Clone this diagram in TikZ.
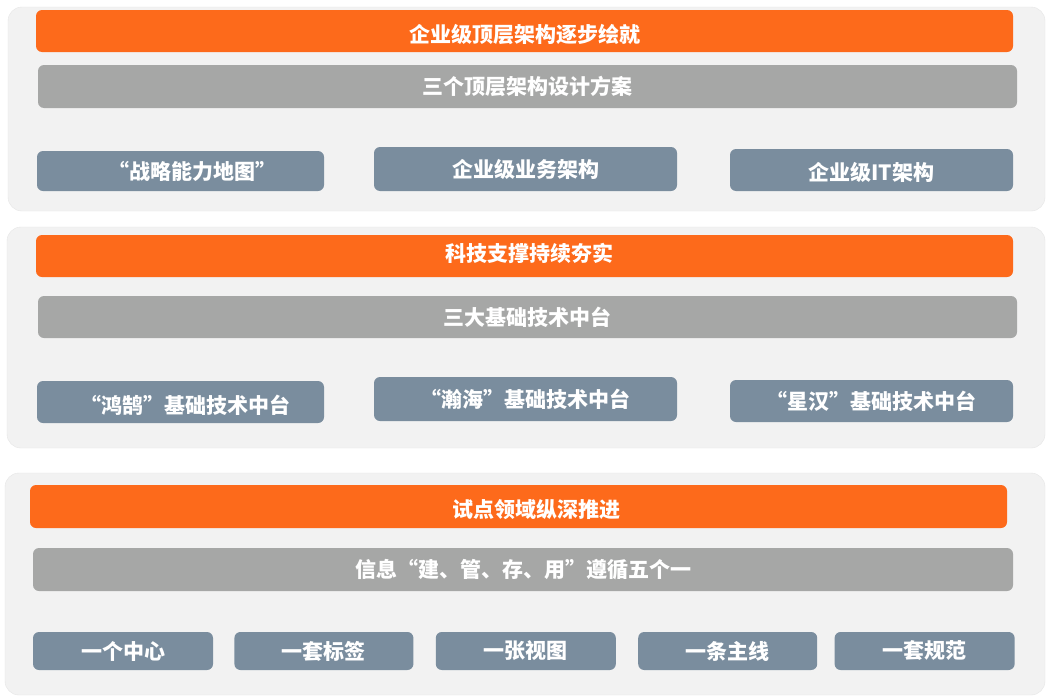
\documentclass[tikz,border=0pt]{standalone}
\usepackage{fontspec}
\setmainfont{Noto Sans CJK SC}
\usetikzlibrary{positioning}
\definecolor{tangerine}{HTML}{FD6A1B}
\definecolor{slab}{HTML}{A6A7A6}
\definecolor{steel}{HTML}{7A8D9E}
\definecolor{tray}{HTML}{F2F2F2}
\definecolor{trayedge}{HTML}{E6E6E6}
% move a label inside its bar without moving the bar
\newcommand\nudge[3]{\hspace*{#1}\raisebox{#2}{\smash{#3}}\vphantom{#3}}

\begin{document}
\begin{tikzpicture}[x=1pt,y=-1pt,
  panel/.style={draw=trayedge,fill=tray,rounded corners=14pt,inner sep=0pt},
  bar/.style={rounded corners=6pt,inner sep=0pt,text=white,
              font=\bfseries\fontsize{21}{24}\selectfont},
  head/.style={bar,fill=tangerine,minimum width=977pt,minimum height=42pt},
  sub/.style={bar,fill=slab,minimum width=979pt,minimum height=43pt},
  item/.style={bar,fill=steel,minimum height=42pt}
]
\useasboundingbox[fill=white] (0,0) rectangle (1050,699);

% three trays
\node[panel,minimum width=1037pt,minimum height=204pt] (p1) at (526.5,109) {};
\node[panel,minimum width=1038pt,minimum height=221pt] (p2) at (526,337.5) {};
\node[panel,minimum width=1040pt,minimum height=222pt] (p3) at (525,584) {};

% top: architecture
\node[head] (h1) at (524.5,31) {\nudge{0pt}{-5pt}{企业级顶层架构逐步绘就}};
\node[sub] (s1) at (527.5,86.5) {三个顶层架构设计方案};
\node[item,minimum width=287pt,minimum height=40pt] (map) at (180.5,171) {\nudge{24pt}{0pt}{“战略能力地图”}};
\node[item,minimum width=303pt,minimum height=44pt] (biz) at (525.5,169) {企业级业务架构};
\node[item,minimum width=283pt] (it) at (871.5,170) {\nudge{0pt}{-3pt}{企业级IT架构}};

% middle: technology platforms
\node[head] (h2) at (524.5,256) {\nudge{10pt}{3pt}{科技支撑持续夯实}};
\node[sub,minimum height=42pt] (s2) at (527.5,317) {三大基础技术中台};
\node[item,minimum width=287pt] (hh) at (180.5,402) {\nudge{10pt}{-5pt}{“鸿鹄”基础技术中台}};
\node[item,minimum width=303pt,minimum height=44pt] (hai) at (525.5,399) {“瀚海”基础技术中台};
\node[item,minimum width=283pt] (xh) at (871.5,401) {“星汉”基础技术中台};

% bottom: pilot areas
\node[head,minimum height=43pt] (h3) at (518.5,506.5) {\nudge{36pt}{-4pt}{试点领域纵深推进}};
\node[sub,minimum width=980pt] (s3) at (523,569.5) {信息“建、管、存、用”遵循五个一};
\node[item,minimum width=180pt,minimum height=38pt] (c1) at (123,651) {一个中心};
\node[item,minimum width=179pt,minimum height=38pt,right=21pt of c1] (c2) {一套标签};
\node[item,minimum width=180pt,minimum height=38pt,right=22pt of c2] (c3) {一张视图};
\node[item,minimum width=179pt,minimum height=38pt,right=22pt of c3] (c4) {一条主线};
\node[item,minimum width=180pt,minimum height=38pt,right=17pt of c4] (c5) {一套规范};
\end{tikzpicture}
\end{document}
